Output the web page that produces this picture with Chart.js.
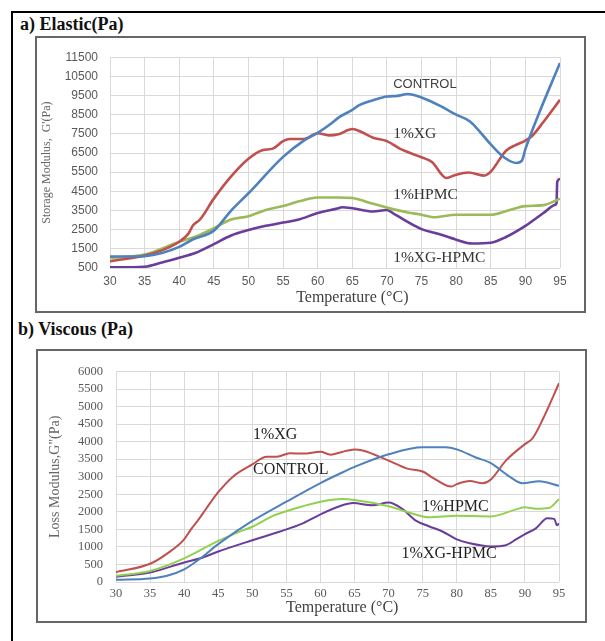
<!DOCTYPE html>
<html>
<head>
  <title>Elastic and Viscous modulus vs temperature</title>
  <script src="https://cdn.jsdelivr.net/npm/chart.js"></script>
  <style>
    body {
      margin: 0;
      background-color: #ffffff;
      width: 605px;
      height: 641px;
      position: relative;
      overflow: hidden;
    }
    .outer {
      position: absolute;
      left: 11px;
      top: 11px;
      right: -5px;
      bottom: -5px;
      border-top: 2px solid #000;
      border-left: 2px solid #000;
    }
    .panel-title {
      position: absolute;
      font-family: 'Liberation Serif', 'DejaVu Serif', serif;
      font-weight: bold;
      font-size: 18px;
      color: #111;
      line-height: 20px;
    }
    .frame {
      position: absolute;
      box-sizing: border-box;
      border: 2px solid #666;
      background: #fff;
    }
    canvas { display: block; }
  </style>
</head>
<body>
  <div class="outer"></div>

  <div class="panel-title" style="left:20px; top:14px;">a) Elastic(Pa)</div>
  <div class="frame" style="left:35px; top:36px; width:551px; height:277px;">
    <canvas id="elasticChart" width="547" height="273"></canvas>
  </div>

  <div class="panel-title" style="left:18px; top:319px;">b) Viscous (Pa)</div>
  <div class="frame" style="left:36px; top:349px; width:551px; height:274px;">
    <canvas id="viscousChart" width="547" height="270"></canvas>
  </div>

  <script>
    // ---- a) Elastic, storage modulus G' (Pa) ----
    const controlA_T = [30, 33, 35, 37.5, 40, 42, 45, 47.5, 50, 55, 58, 60, 62, 63, 65, 66, 68, 70, 71.5, 73, 75, 78, 80, 82, 85, 87, 88.7, 89.5, 90, 92, 95];
    const controlA   = [1100, 1100, 1120, 1280, 1600, 2000, 2450, 3500, 4400, 6300, 7150, 7550, 8050, 8350, 8750, 9000, 9250, 9450, 9480, 9580, 9400, 8900, 8500, 8150, 6950, 6250, 5980, 6100, 6700, 8600, 11200];

    const xgA_T = [30, 35, 37.5, 40, 41.3, 42, 43, 45, 47.5, 50, 52, 53.5, 55, 56, 58, 60, 61.6, 63, 65, 66.4, 68, 70, 72, 75, 76.5, 78.6, 80, 81.8, 84, 85, 87.2, 88.5, 90, 91, 92.6, 95];
    const xgA   = [850, 1150, 1420, 1870, 2280, 2730, 3030, 4120, 5280, 6200, 6650, 6730, 7120, 7230, 7230, 7530, 7420, 7480, 7750, 7580, 7300, 7120, 6700, 6280, 6030, 5200, 5370, 5480, 5320, 5530, 6620, 6900, 7150, 7400, 8120, 9280];

    const hpmcA_T = [30, 35, 40, 42.8, 45, 47.5, 50, 52.5, 55, 57.3, 60, 63, 65, 68, 70, 73, 75, 76.7, 80, 85, 87.5, 90, 92.6, 95];
    const hpmcA   = [1030, 1200, 1870, 2200, 2580, 3030, 3200, 3530, 3730, 3980, 4180, 4180, 4150, 3850, 3650, 3400, 3280, 3150, 3280, 3280, 3500, 3730, 3780, 4120];

    const xgHpmcA_T = [30, 35, 37.5, 40, 42.3, 45, 47.5, 50, 52.5, 55, 57.3, 60, 63, 63.5, 65, 68, 70, 71.2, 75, 77.5, 80, 82.3, 85, 87.2, 90, 92.6, 94.3, 94.5, 94.6, 95];
    const xgHpmcA   = [533, 567, 783, 1033, 1283, 1750, 2200, 2480, 2700, 2870, 3030, 3370, 3620, 3670, 3620, 3450, 3530, 3280, 2530, 2280, 1980, 1780, 1820, 2120, 2700, 3370, 3800, 3900, 5000, 5150];

    // ---- b) Viscous, loss modulus G" (Pa) ----
    const controlB_T = [30, 35, 37.5, 40, 42.4, 45, 50, 55, 60, 62.8, 65, 70, 75, 78.4, 80, 82.8, 85, 87.7, 89.6, 92.1, 95];
    const controlB   = [63, 100, 180, 360, 675, 1080, 1740, 2290, 2820, 3085, 3280, 3640, 3840, 3840, 3780, 3550, 3390, 3010, 2815, 2870, 2740];

    const xgB_T = [30, 35, 37.5, 40, 41.1, 42, 43.3, 45, 47.2, 50, 52.1, 53.6, 55.5, 57.5, 60, 61.5, 63, 65, 66.2, 70, 72.6, 75, 76.5, 79.2, 80, 81.9, 83.8, 85, 87.2, 90, 91.1, 92.6, 95];
    const xgB   = [280, 520, 810, 1214, 1530, 1750, 2110, 2560, 3010, 3350, 3570, 3570, 3670, 3660, 3710, 3630, 3700, 3780, 3750, 3460, 3240, 3150, 2970, 2720, 2790, 2880, 2815, 2920, 3460, 3930, 4090, 4630, 5665];

    const hpmcB_T = [30, 35, 40, 45, 48.7, 50, 53.1, 55, 60, 63.2, 65, 70, 73, 75.9, 80, 85, 88.7, 90, 91.6, 93.5, 95];
    const hpmcB   = [180, 315, 675, 1170, 1480, 1575, 1890, 2020, 2290, 2365, 2340, 2160, 1980, 1845, 1890, 1870, 2070, 2130, 2090, 2110, 2365];

    const xgHpmcB_T = [30, 35, 40, 42.4, 45, 50, 53.6, 55, 57.5, 60, 62.8, 64.8, 67.6, 70, 72.1, 74, 75.9, 77.9, 80, 81.9, 85, 87.2, 88.7, 90, 91.6, 93.3, 94.3, 94.7, 95];
    const xgHpmcB   = [153, 270, 557, 675, 870, 1190, 1410, 1500, 1680, 1930, 2160, 2250, 2185, 2265, 2070, 1750, 1590, 1440, 1215, 1105, 1015, 1050, 1215, 1365, 1530, 1815, 1800, 1620, 1665];

    const BLUE = '#4f81bd';
    const RED = '#c0504d';
    const GREEN_A = '#9bbb59';
    const GREEN_B = '#92d050';
    const PURPLE = '#6a3d9a';

    function toPoints(ts, vs) {
      return ts.map((t, i) => ({ x: t, y: vs[i] }));
    }

    function line(label, ts, vs, color, width) {
      return {
        label: label,
        data: toPoints(ts, vs),
        borderColor: color,
        borderWidth: width,
        pointRadius: 0,
        fill: false,
        tension: 0.4,
        cubicInterpolationMode: 'monotone'
      };
    }

    // text beside the curves + x axis title, placed in data units
    const curveLabels = {
      id: 'curveLabels',
      afterDatasetsDraw(chart, args, opts) {
        const { ctx, chartArea } = chart;
        const x = chart.scales.x, y = chart.scales.y;
        ctx.save();
        ctx.textAlign = 'left';
        ctx.textBaseline = 'middle';
        (opts.items || []).forEach(it => {
          ctx.font = it.font;
          ctx.fillStyle = it.color;
          ctx.fillText(it.text, x.getPixelForValue(it.t), y.getPixelForValue(it.v));
        });
        if (opts.xTitle) {
          ctx.textAlign = 'center';
          ctx.font = opts.xTitle.font;
          ctx.fillStyle = opts.xTitle.color;
          ctx.fillText(opts.xTitle.text, x.getPixelForValue(opts.xTitle.t), chartArea.bottom + opts.xTitle.below);
        }
        ctx.restore();
      }
    };

    const SERIF = "'Liberation Serif', 'DejaVu Serif', serif";
    const SANS = "'Liberation Sans', Arial, sans-serif";

    function makeOptions(c) {
      return {
        responsive: false,
        animation: false,
        layout: { padding: c.pad },
        plugins: {
          legend: { display: false },
          tooltip: { enabled: false },
          curveLabels: { items: c.labels, xTitle: c.xTitle }
        },
        scales: {
          x: {
            type: 'linear',
            min: 30,
            max: 95,
            ticks: { stepSize: 5, autoSkip: false, maxRotation: 0, font: c.tickFont, color: '#595959', padding: c.xTickPad, callback: v => String(v) },
            grid: { color: '#d9d9d9', drawTicks: false },
            border: { display: false },
            afterFit: s => { s.height = c.xHeight; }
          },
          y: {
            type: 'linear',
            min: c.yMin,
            max: c.yMax,
            ticks: { stepSize: c.yStep, autoSkip: false, font: c.tickFont, color: '#595959', padding: c.yTickPad, callback: v => String(v) },
            grid: { color: '#d9d9d9', drawTicks: false },
            border: { display: false },
            title: { display: true, text: c.yTitle, font: c.yTitleFont, color: '#666666', padding: c.yTitlePad },
            afterFit: s => { s.width = c.yWidth; }
          }
        }
      };
    }

    new Chart(document.getElementById('elasticChart'), {
      type: 'line',
      data: {
        datasets: [
          line('CONTROL', controlA_T, controlA, BLUE, 2.6),
          line('1%XG', xgA_T, xgA, RED, 2.6),
          line('1%HPMC', hpmcA_T, hpmcA, GREEN_A, 2.6),
          line('1%XG-HPMC', xgHpmcA_T, xgHpmcA, PURPLE, 2.6)
        ]
      },
      options: makeOptions({
        pad: { top: 11, right: 24, left: 0, bottom: 0 },
        xHeight: 43,
        yWidth: 73,
        yMin: 500, yMax: 11500, yStep: 1000,
        tickFont: { family: SANS, size: 12 },
        xTickPad: 6,
        yTickPad: 12,
        yTitle: "Storage Modulus,  G'(Pa)",
        yTitleFont: { family: SERIF, size: 12 },
        yTitlePad: { top: 3, bottom: 0 },
        labels: [
          { text: 'CONTROL', t: 70.9, v: 10100, font: '13px ' + SANS, color: '#404040' },
          { text: '1%XG', t: 70.9, v: 7500, font: '15.5px ' + SERIF, color: '#333333' },
          { text: '1%HPMC', t: 70.9, v: 4300, font: '15.5px ' + SERIF, color: '#333333' },
          { text: '1%XG-HPMC', t: 70.9, v: 1050, font: '15.5px ' + SERIF, color: '#333333' }
        ],
        xTitle: { text: 'Temperature (°C)', t: 65, below: 30, font: '16px ' + SERIF, color: '#404040' }
      }),
      plugins: [curveLabels]
    });

    new Chart(document.getElementById('viscousChart'), {
      type: 'line',
      data: {
        datasets: [
          line('CONTROL', controlB_T, controlB, BLUE, 2),
          line('1%XG', xgB_T, xgB, RED, 2),
          line('1%HPMC', hpmcB_T, hpmcB, GREEN_B, 2),
          line('1%XG-HPMC', xgHpmcB_T, xgHpmcB, PURPLE, 2)
        ]
      },
      options: makeOptions({
        pad: { top: 8, right: 26, left: 0, bottom: 0 },
        xHeight: 39,
        yWidth: 78,
        yMin: 0, yMax: 6000, yStep: 500,
        tickFont: { family: SERIF, size: 12.5 },
        xTickPad: 4,
        yTickPad: 13,
        yTitle: 'Loss Modulus,G"(Pa)',
        yTitleFont: { family: SERIF, size: 14 },
        yTitlePad: { top: 9, bottom: 0 },
        labels: [
          { text: '1%XG', t: 50.1, v: 4210, font: '16px ' + SERIF, color: '#222222' },
          { text: 'CONTROL', t: 50.1, v: 3200, font: '16px ' + SERIF, color: '#222222' },
          { text: '1%HPMC', t: 74.9, v: 2140, font: '16px ' + SERIF, color: '#222222' },
          { text: '1%XG-HPMC', t: 71.9, v: 790, font: '16px ' + SERIF, color: '#222222' }
        ],
        xTitle: { text: 'Temperature (°C)', t: 63.2, below: 26, font: '16px ' + SERIF, color: '#404040' }
      }),
      plugins: [curveLabels]
    });
  </script>
</body>
</html>
